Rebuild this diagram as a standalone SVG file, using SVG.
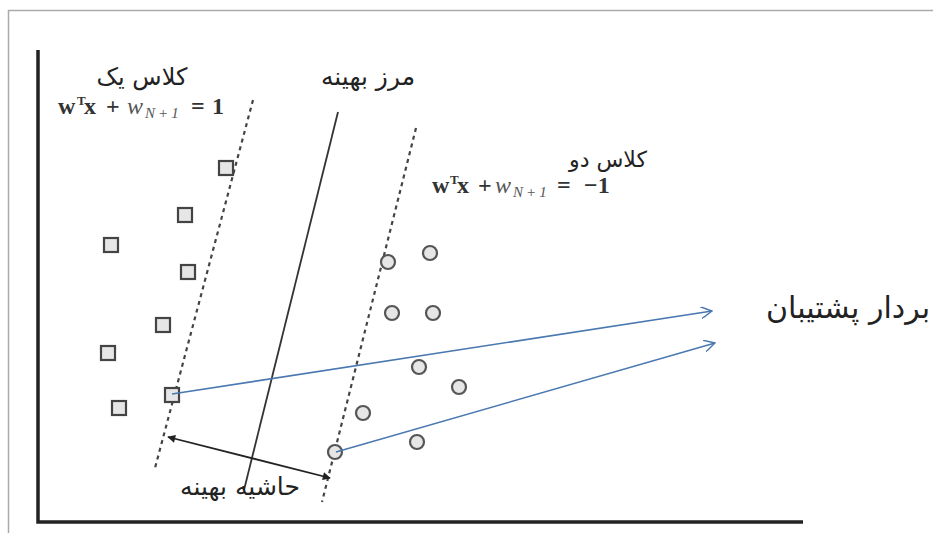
<svg xmlns="http://www.w3.org/2000/svg" width="933" height="533" viewBox="0 0 933 533">
<style>
.fa{font-family:"DejaVu Sans","Noto Sans",sans-serif;fill:#222;text-anchor:middle}
.m{font-family:"Liberation Serif","DejaVu Serif",serif;fill:#333;font-size:24px}
.b{font-weight:bold}
.i{font-style:italic;fill:#555}
.t{font-size:13px}
.s{font-size:15px;letter-spacing:3px}
.sq{fill:#e6e6e6;stroke:#444;stroke-width:2.2}
.ci{fill:#e6e6e6;stroke:#555;stroke-width:2.2}
.dash{stroke:#444;stroke-width:2.2;stroke-dasharray:4 4;fill:none}
</style>
<defs>
<marker id="open" viewBox="0 0 12 12" refX="11" refY="6" markerWidth="12" markerHeight="12" markerUnits="userSpaceOnUse" orient="auto">
<path d="M0,0 L11,6 L0,12" fill="none" stroke="#4a78b0" stroke-width="1.4"/>
</marker>
<marker id="fill" viewBox="0 0 10 10" refX="9" refY="5" markerWidth="10" markerHeight="8" markerUnits="userSpaceOnUse" orient="auto-start-reverse">
<path d="M0,0 L10,5 L0,10 z" fill="#222"/>
</marker>
</defs>
<rect width="933" height="533" fill="#fff"/>
<g id="frame" fill="none" stroke="#aaa" stroke-width="1.5">
<path d="M933,10.5 H8.5 V533"/>
</g>
<g id="axes" fill="none" stroke="#222" stroke-width="3.5">
<path d="M38,50 V522 H803"/>
</g>
<g id="boundaries">
<path class="dash" d="M253,100 L155,468"/>
<path d="M338,112 L244,490" stroke="#333" stroke-width="1.8" fill="none"/>
<path class="dash" d="M416,128 L322,502"/>
</g>
<g id="class1">
<rect class="sq" x="219" y="161" width="14" height="14"/>
<rect class="sq" x="178" y="208" width="14" height="14"/>
<rect class="sq" x="104" y="238" width="14" height="14"/>
<rect class="sq" x="181" y="265" width="14" height="14"/>
<rect class="sq" x="156" y="318" width="14" height="14"/>
<rect class="sq" x="101" y="346" width="14" height="14"/>
<rect class="sq" x="165" y="388" width="14" height="14"/>
<rect class="sq" x="112" y="401" width="14" height="14"/>
</g>
<g id="class2">
<circle class="ci" cx="388" cy="262" r="7"/>
<circle class="ci" cx="430" cy="253" r="7"/>
<circle class="ci" cx="392" cy="313" r="7"/>
<circle class="ci" cx="433" cy="313" r="7"/>
<circle class="ci" cx="419" cy="367" r="7"/>
<circle class="ci" cx="459" cy="387" r="7"/>
<circle class="ci" cx="363" cy="413" r="7"/>
<circle class="ci" cx="417" cy="442" r="7"/>
<circle class="ci" cx="335" cy="452" r="7"/>
</g>
<g id="connectors" fill="none">
<path d="M172,394 L712,311" stroke="#4a78b0" stroke-width="1.6" marker-end="url(#open)"/>
<path d="M336,452 L715,343" stroke="#4a78b0" stroke-width="1.6" marker-end="url(#open)"/>
<path d="M168,437 L330,478" stroke="#222" stroke-width="1.8" marker-start="url(#fill)" marker-end="url(#fill)"/>
</g>
<g id="labels">
<text class="fa" x="142" y="85" font-size="24">کلاس یک</text>
<text class="m" y="114"><tspan class="b" x="58">w</tspan><tspan class="b t" x="77" dy="-9">T</tspan><tspan class="b" x="84" dy="9">x</tspan><tspan class="b" x="106">+</tspan><tspan class="i" x="127">w</tspan><tspan class="i s" x="145" dy="4">N+1</tspan><tspan class="b" x="191" dy="-4">=</tspan><tspan class="b" x="212">1</tspan></text>
<text class="fa" x="368" y="85" font-size="25">مرز بهینه</text>
<text class="fa" x="608" y="167" font-size="22">کلاس دو</text>
<text class="m" y="193"><tspan class="b" x="432">w</tspan><tspan class="b t" x="450" dy="-9">T</tspan><tspan class="b" x="457" dy="9">x</tspan><tspan class="b" x="478">+</tspan><tspan class="i" x="495">w</tspan><tspan class="i s" x="513" dy="4">N+1</tspan><tspan class="b" x="557" dy="-4">=</tspan><tspan class="b" x="584">−1</tspan></text>
<text class="fa" x="848" y="318" font-size="30">بردار پشتیبان</text>
<text class="fa" x="240" y="495" font-size="25">حاشیه بهینه</text>
</g>
</svg>
